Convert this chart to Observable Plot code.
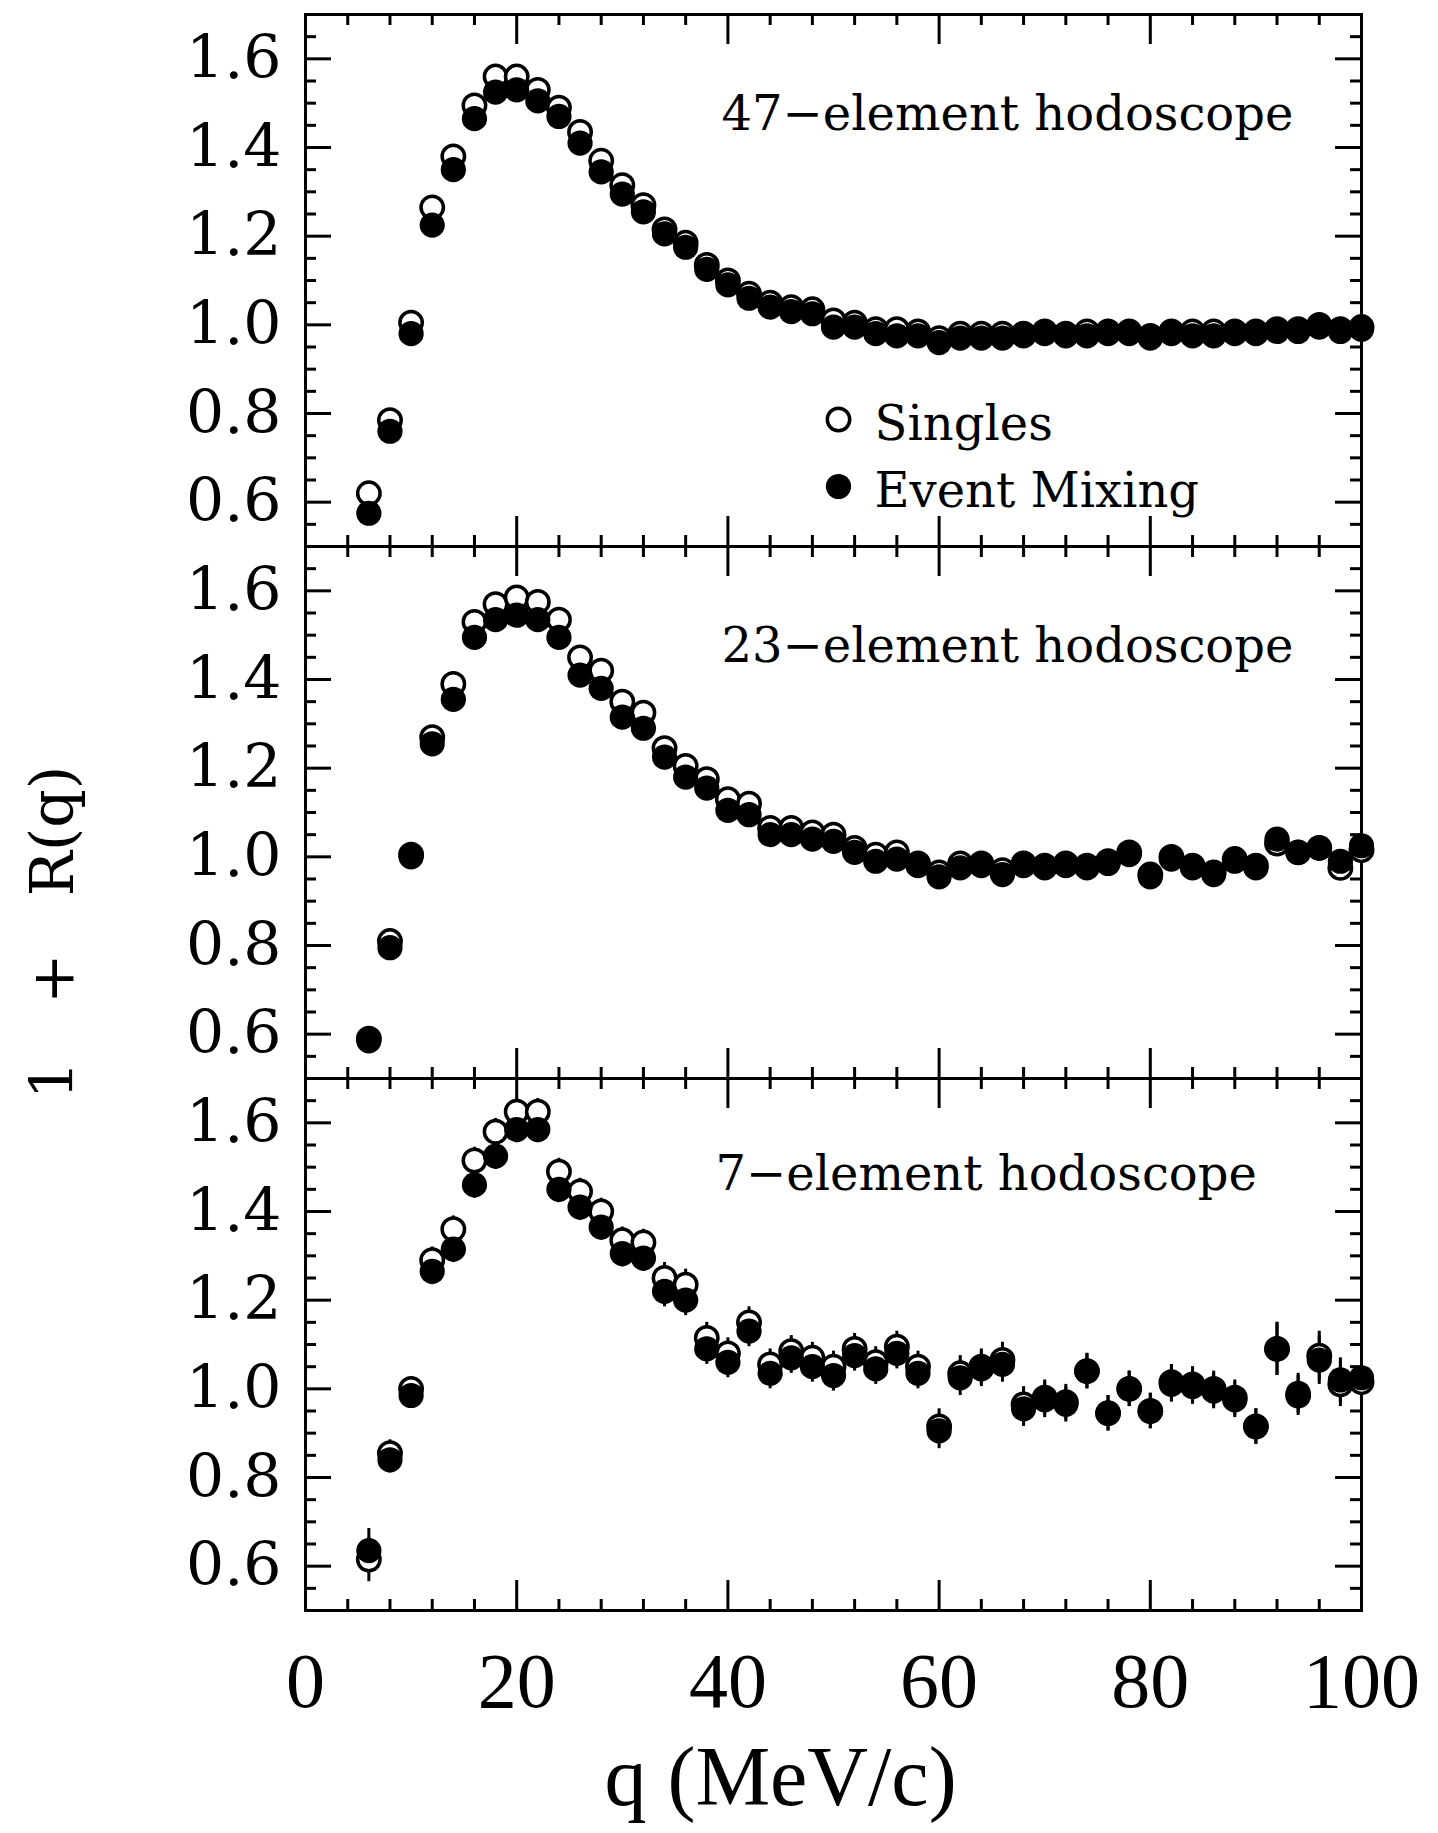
<!DOCTYPE html>
<html>
<head>
<meta charset="utf-8">
<script src="https://cdn.jsdelivr.net/npm/d3@7"></script>
<script src="https://cdn.jsdelivr.net/npm/@observablehq/plot@0.6"></script>
<style>
  html, body { margin: 0; padding: 0; background: #fff; }
  #chart { width: 1438px; height: 1833px; }
</style>
</head>
<body>
<div id="chart"></div>
<script>
// ---- data ----
const panels = ["47", "23", "7"];
const titles = ["47\u2212element hodoscope", "23\u2212element hodoscope", "7\u2212element hodoscope"];
const legendLabels = ["Singles", "Event Mixing"];

const q = [6, 8, 10, 12, 14, 16, 18, 20, 22, 24, 26, 28, 30, 32, 34, 36, 38, 40, 42, 44, 46, 48, 50, 52,
           54, 56, 58, 60, 62, 64, 66, 68, 70, 72, 74, 76, 78, 80, 82, 84, 86, 88, 90, 92, 94, 96, 98, 100];

// 47-element hodoscope
const singles47 = [0.62, 0.785, 1.005, 1.265, 1.38, 1.495, 1.56, 1.56, 1.53, 1.49, 1.435, 1.37, 1.315, 1.27,
  1.215, 1.185, 1.135, 1.10, 1.07, 1.05, 1.04, 1.035, 1.01, 1.005, 0.99, 0.99, 0.985, 0.97, 0.98, 0.98,
  0.98, 0.98, 0.985, 0.98, 0.985, 0.985, 0.985, 0.975, 0.985, 0.985, 0.985, 0.985, 0.985, 0.99, 0.99,
  1.0, 0.99, 0.995];
const mixing47 = [0.575, 0.76, 0.98, 1.225, 1.35, 1.465, 1.525, 1.53, 1.505, 1.47, 1.41, 1.345, 1.295, 1.255,
  1.205, 1.175, 1.125, 1.09, 1.06, 1.04, 1.03, 1.025, 0.995, 0.995, 0.98, 0.975, 0.975, 0.96, 0.97, 0.97,
  0.97, 0.975, 0.98, 0.975, 0.975, 0.98, 0.98, 0.97, 0.98, 0.975, 0.975, 0.98, 0.98, 0.985, 0.985,
  0.995, 0.985, 0.99];

// 23-element hodoscope
const singles23 = [0.59, 0.81, 1.005, 1.27, 1.39, 1.53, 1.57, 1.585, 1.575, 1.535, 1.45, 1.42, 1.35, 1.325,
  1.245, 1.205, 1.175, 1.13, 1.12, 1.065, 1.065, 1.055, 1.05, 1.02, 1.005, 1.01, 0.985, 0.965, 0.985, 0.985,
  0.97, 0.985, 0.98, 0.985, 0.98, 0.99, 1.01, 0.96, 1.0, 0.98, 0.965, 0.995, 0.98, 1.03, 1.01,
  1.02, 0.975, 1.015];
const mixing23 = [0.585, 0.795, 1.0, 1.255, 1.355, 1.495, 1.535, 1.545, 1.535, 1.495, 1.41, 1.38, 1.315, 1.29,
  1.225, 1.18, 1.155, 1.105, 1.095, 1.05, 1.05, 1.04, 1.035, 1.01, 0.99, 0.995, 0.98, 0.955, 0.975, 0.98,
  0.96, 0.98, 0.975, 0.98, 0.975, 0.985, 1.005, 0.955, 0.995, 0.975, 0.96, 0.99, 0.975, 1.04, 1.01,
  1.02, 0.99, 1.025];

// 7-element hodoscope (with statistical errors)
const singles7 = [0.615, 0.855, 1.0, 1.29, 1.36, 1.515, 1.58, 1.625, 1.625, 1.49, 1.445, 1.40, 1.335, 1.33,
  1.25, 1.235, 1.115, 1.08, 1.15, 1.055, 1.085, 1.07, 1.05, 1.09, 1.06, 1.095, 1.05, 0.915, 1.035, 1.05,
  1.065, 0.965, 0.98, 0.97, 1.04, 0.945, 1.0, 0.95, 1.015, 1.01, 1.0, 0.98, 0.915, 1.09, 0.985,
  1.075, 1.01, 1.015];
const mixing7 = [0.635, 0.84, 0.985, 1.265, 1.315, 1.46, 1.525, 1.585, 1.585, 1.45, 1.41, 1.365, 1.305, 1.295,
  1.22, 1.20, 1.09, 1.06, 1.13, 1.035, 1.07, 1.05, 1.03, 1.075, 1.045, 1.08, 1.035, 0.905, 1.025, 1.045,
  1.055, 0.955, 0.975, 0.965, 1.04, 0.945, 1.0, 0.95, 1.01, 1.005, 0.995, 0.975, 0.915, 1.09, 0.99,
  1.065, 1.02, 1.025];
const err7 = [0.05, 0.03, 0.025, 0.03, 0.03, 0.03, 0.03, 0.03, 0.03, 0.03, 0.03, 0.03, 0.03, 0.03,
  0.035, 0.035, 0.035, 0.035, 0.035, 0.035, 0.035, 0.035, 0.035, 0.035, 0.035, 0.035, 0.035, 0.04, 0.04, 0.04,
  0.04, 0.04, 0.04, 0.04, 0.04, 0.04, 0.04, 0.04, 0.04, 0.04, 0.04, 0.04, 0.04, 0.06, 0.045,
  0.055, 0.05, 0.05];

// tick values
const xMajor = [0, 20, 40, 60, 80, 100];
const xMinor = [4, 8, 12, 16, 24, 28, 32, 36, 44, 48, 52, 56, 64, 68, 72, 76, 84, 88, 92, 96];
const yMajor = [0.6, 0.8, 1.0, 1.2, 1.4, 1.6];
const yMinor = [0.5, 0.55, 0.65, 0.7, 0.75, 0.85, 0.9, 0.95, 1.05, 1.1, 1.15, 1.25, 1.3, 1.35, 1.45, 1.5, 1.55, 1.65, 1.7];

// ---- table ----
const singles = [singles47, singles23, singles7];
const mixing = [mixing47, mixing23, mixing7];
const errs = [null, null, err7];
const rows = [];
panels.forEach((p, i) => {
  q.forEach((qq, j) => {
    rows.push({panel: p, q: qq, s: singles[i][j], m: mixing[i][j], e: errs[i] ? errs[i][j] : 0});
  });
});
const errRows = rows.filter(d => d.e > 0);

// ---- layout ----
const W = 1438, H = 1833, mt = 14, mb = 223, ml = 305, mr = 77;
const innerW = W - ml - mr;
const facetH = (H - mt - mb) / panels.length;
const majLen = 26, minLen = 11;
const serif = "DejaVu Serif";
const rOpen = 11.2, rFill = 12.6;

const chart = Plot.plot({
  width: W,
  height: H,
  marginTop: mt,
  marginBottom: mb,
  marginLeft: ml,
  marginRight: mr,
  style: {background: "white", color: "black"},
  x: {domain: [0, 100]},
  y: {domain: [0.5, 1.7]},
  fy: {domain: panels, axis: null, padding: 0},
  marks: [
    Plot.frame({stroke: "black", strokeWidth: 3}),
    // y ticks, inward, left and right
    Plot.tickY(yMajor, {y: d => d, insetRight: innerW - majLen, strokeWidth: 3}),
    Plot.tickY(yMinor, {y: d => d, insetRight: innerW - minLen, strokeWidth: 3}),
    Plot.tickY(yMajor, {y: d => d, insetLeft: innerW - majLen, strokeWidth: 3}),
    Plot.tickY(yMinor, {y: d => d, insetLeft: innerW - minLen, strokeWidth: 3}),
    // x ticks, inward, top and bottom
    Plot.tickX(xMajor, {x: d => d, insetBottom: facetH - majLen - 4, strokeWidth: 3}),
    Plot.tickX(xMinor, {x: d => d, insetBottom: facetH - minLen, strokeWidth: 3}),
    Plot.tickX(xMajor, {x: d => d, insetTop: facetH - majLen - 4, strokeWidth: 3}),
    Plot.tickX(xMinor, {x: d => d, insetTop: facetH - minLen, strokeWidth: 3}),
    // error bars (7-element)
    Plot.ruleX(errRows, {x: "q", y1: d => d.s - d.e, y2: d => d.s + d.e, fy: "panel", stroke: "black", strokeWidth: 3}),
    Plot.ruleX(errRows, {x: "q", y1: d => d.m - d.e, y2: d => d.m + d.e, fy: "panel", stroke: "black", strokeWidth: 3}),
    // Singles (open)
    Plot.dot(rows, {x: "q", y: "s", fy: "panel", r: rOpen, fill: "white", stroke: "black", strokeWidth: 3.5}),
    // Event mixing (filled)
    Plot.dot(rows, {x: "q", y: "m", fy: "panel", r: rFill, fill: "black", stroke: "none"}),
    // axes labels
    Plot.axisY({ticks: yMajor, tickSize: 0, tickPadding: 24, tickFormat: d3.format(".1f"),
      fontSize: 60, fontFamily: serif, label: null}),
    Plot.axisX({ticks: xMajor, tickSize: 0, tickPadding: 41, tickFormat: d3.format("d"),
      fontSize: 78, fontFamily: "Liberation Serif", label: null}),
    // panel titles
    ...titles.map((t, i) => Plot.text([t], {
      fy: () => panels[i], frameAnchor: "top-left", textAnchor: "start", lineAnchor: "middle",
      dx: i === 2 ? 410 : 416, dy: i === 2 ? 96 : 100,
      fontSize: 48, fontFamily: serif, fill: "black"
    })),
    // legend
    Plot.dot([legendLabels[0]], {fy: () => panels[0], frameAnchor: "top-left", dx: 533, dy: 405,
      r: rOpen, fill: "white", stroke: "black", strokeWidth: 3.5}),
    Plot.dot([legendLabels[1]], {fy: () => panels[0], frameAnchor: "top-left", dx: 533, dy: 472,
      r: rFill, fill: "black"}),
    Plot.text([legendLabels[0]], {fy: () => panels[0], frameAnchor: "top-left", dx: 569, dy: 410,
      textAnchor: "start", lineAnchor: "middle", fontSize: 48, fontFamily: serif, fill: "black"}),
    Plot.text([legendLabels[1]], {fy: () => panels[0], frameAnchor: "top-left", dx: 569, dy: 477,
      textAnchor: "start", lineAnchor: "middle", fontSize: 48, fontFamily: serif, fill: "black"}),
    // y-axis title
    Plot.text(["1\u00a0\u00a0\u00a0+\u00a0\u00a0\u00a0R(q)"], {fy: () => panels[1], frameAnchor: "left", dx: -252, dy: 120,
      textAnchor: "middle", lineAnchor: "middle",
      rotate: -90, fontSize: 60, fontFamily: serif, fill: "black"}),
    // x-axis title
    Plot.text(["q (MeV/c)"], {fy: () => panels[2], frameAnchor: "bottom", dx: -53, dy: 168,
      textAnchor: "middle", lineAnchor: "middle",
      fontSize: 84, fontFamily: "Liberation Serif", fill: "black"})
  ]
});
document.getElementById("chart").appendChild(chart);
</script>
</body>
</html>
